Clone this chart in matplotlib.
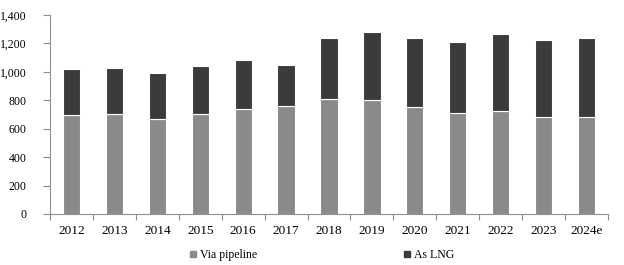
import matplotlib.pyplot as plt
from matplotlib.lines import Line2D
from matplotlib.ticker import FuncFormatter
import numpy as np

years = ["2012", "2013", "2014", "2015", "2016", "2017", "2018",
         "2019", "2020", "2021", "2022", "2023", "2024e"]
via_pipeline = [693, 706, 666, 706, 738, 759, 806, 800, 755, 708, 722, 680, 680]
totals = [1019, 1026, 993, 1040, 1082, 1049, 1238, 1280, 1238, 1210, 1266, 1224, 1238]
as_lng = [t - p for t, p in zip(totals, via_pipeline)]

plt.rcParams['font.family'] = ['Liberation Serif', 'DejaVu Serif']
plt.rcParams['font.size'] = 8.5

c_pipe = "#8a8a8a"
c_lng = "#3b3b3b"
c_axis = "#8f8f8f"

fig = plt.figure(figsize=(6.24, 2.65), dpi=100)
ax = fig.add_axes([50 / 624, 1 - 214 / 265, 558 / 624, 199 / 265])

x = np.arange(len(years))
ax.bar(x, via_pipeline, width=0.4, color=c_pipe, edgecolor="white", linewidth=0.8)
ax.bar(x, as_lng, bottom=via_pipeline, width=0.4, color=c_lng,
       edgecolor="white", linewidth=0.8)

ax.set_xlim(-0.5, len(years) - 0.5)
ax.set_ylim(0, 1400)
ax.set_yticks(range(0, 1401, 200))
ax.yaxis.set_major_formatter(FuncFormatter(lambda v, _: f"{int(v):,}"))

ax.set_xticks(x)
ax.set_xticklabels(years, fontsize=9.5)
ax.set_xticks(np.arange(-0.5, len(years), 1), minor=True)
ax.tick_params(axis="x", which="major", length=0, pad=8)
ax.tick_params(axis="x", which="minor", length=4, color=c_axis, width=0.8)
ax.tick_params(axis="y", length=5, color=c_axis, width=0.8, pad=12)

for s in ["top", "right"]:
    ax.spines[s].set_visible(False)
for s in ["left", "bottom"]:
    ax.spines[s].set_color(c_axis)
    ax.spines[s].set_linewidth(0.8)

handles = [Line2D([], [], marker="s", linestyle="", color=c_pipe, markersize=4.5),
           Line2D([], [], marker="s", linestyle="", color=c_lng, markersize=4.5)]
fig.legend(handles, ["Via pipeline", "As LNG"], ncol=2, frameon=False,
           loc="center left", bbox_to_anchor=(189 / 624, 1 - 255 / 265),
           handlelength=0.6, handletextpad=0.3, columnspacing=12.4,
           borderpad=0, borderaxespad=0)

fig.savefig("out.png", dpi=100)
